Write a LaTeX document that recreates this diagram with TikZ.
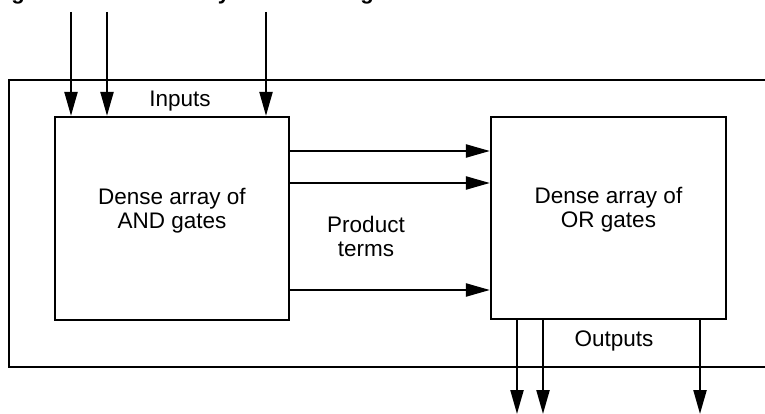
\documentclass[tikz,border=0pt]{standalone}
\usepackage{fontspec}
\setmainfont{Liberation Sans}
\usetikzlibrary{arrows.meta,positioning}

\begin{document}
\begin{tikzpicture}[
  x=1pt, y=-1pt,
  array/.style={draw, line width=2.2pt, minimum width=234pt, minimum height=203pt, inner sep=0pt},
  arr/.style={-{Triangle[length=24pt,width=13pt]}, line width=2.2pt},
  lbl/.style={font=\fontsize{22.5}{24}\selectfont, align=center, inner sep=0pt},
]
\useasboundingbox (0,0) rectangle (765,414);

% cut-off title at the top edge
\begin{scope}
  \clip (0,0) rectangle (765,4.5);
  \node[anchor=base, font=\fontsize{22}{24}\selectfont\bfseries] (tg1) at (18,0) {g};
  \node[anchor=base, font=\fontsize{22}{24}\selectfont\bfseries] (ty) at (224,0) {y};
  \node[anchor=base, font=\fontsize{22}{24}\selectfont\bfseries] (tg2) at (367,0) {g};
\end{scope}

% outer frame, open on the right
\coordinate (ftr) at (765,80);
\coordinate (fbr) at (765,367);
\draw[line width=2.2pt] (ftr) -- (9,80) -- (9,367) -- (fbr);

% the two arrays
\node[array] (andarr) at (172,218.5) {};
\node[array, minimum width=235pt, minimum height=202pt] (orarr) at (608.5,218) {};
\node[lbl] (andtxt) at ([yshift=8pt]andarr.center) {Dense array of\\AND gates};
\node[lbl] (ortxt) at ([yshift=8pt]orarr.center) {Dense array of\\OR gates};

% inputs
\node[lbl] (inlbl) at (180,101) {Inputs};
\foreach \x [count=\i] in {71,107,266} {
  \coordinate (in\i) at (\x,12);
  \draw[arr] (in\i) -- (in\i |- andarr.north);
}

% product terms
\node[lbl] (ptlbl) at (366,236) {Product\\terms};
\foreach \y [count=\i] in {151,183,290} {
  \coordinate (pt\i) at (0,\y);
  \draw[arr] (andarr.east |- pt\i) -- (orarr.west |- pt\i);
}

% outputs
\node[lbl] (outlbl) at (614,341) {Outputs};
\foreach \x [count=\i] in {517,543,700} {
  \coordinate (out\i) at (\x,414);
  \draw[arr] (out\i |- orarr.south) -- (out\i);
}
\end{tikzpicture}
\end{document}
